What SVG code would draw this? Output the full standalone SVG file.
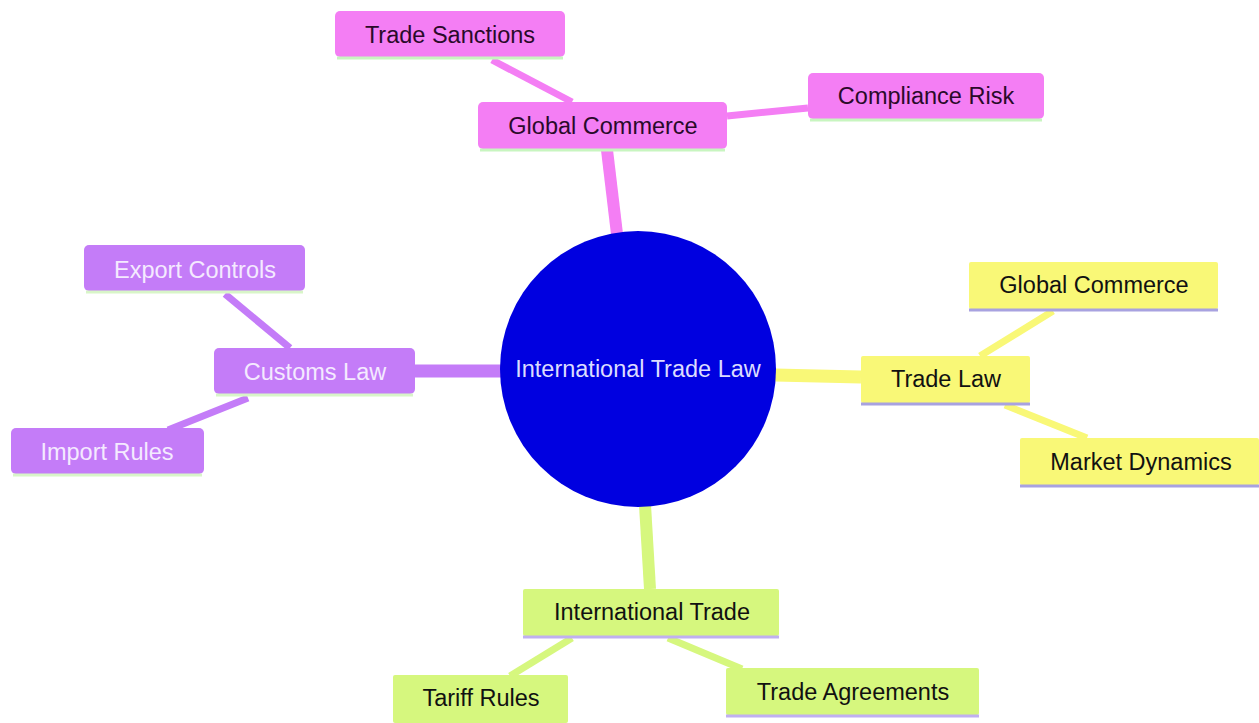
<svg xmlns="http://www.w3.org/2000/svg" width="1259" height="723" viewBox="0 0 1259 723">
<style>
text{font-family:"Liberation Sans",Arial,sans-serif;font-size:23.5px;text-anchor:middle;dominant-baseline:central}
.pk rect.b{fill:#f47ef4}.pk line{stroke:#c8f5c0}.pk text{fill:#2a0a2a}
.pu rect.b{fill:#c47cf8}.pu line{stroke:#d8f5c8}.pu text{fill:#f4eaff}
.ye rect.b{fill:#f9f877}.ye line{stroke:#a8a2e0}.ye text{fill:#111}
.gr rect.b{fill:#d6f77e}.gr line{stroke:#c0b0f0}.gr text{fill:#111}
.n line{stroke-width:3}
.c line{stroke-linecap:butt}
</style>
<g id="connectors" class="c">
<line x1="617" y1="234" x2="607" y2="150" stroke="#f47ef4" stroke-width="12"/>
<line x1="415" y1="371" x2="502" y2="371" stroke="#c47cf8" stroke-width="13"/>
<line x1="775" y1="375" x2="861" y2="377" stroke="#f9f877" stroke-width="13"/>
<line x1="645" y1="505" x2="650" y2="589" stroke="#d6f77e" stroke-width="12"/>
<line x1="492" y1="60" x2="572" y2="102" stroke="#f47ef4" stroke-width="7"/>
<line x1="727" y1="116" x2="808" y2="108" stroke="#f47ef4" stroke-width="7"/>
<line x1="225" y1="294" x2="290" y2="348" stroke="#c47cf8" stroke-width="7"/>
<line x1="248" y1="398" x2="168" y2="430" stroke="#c47cf8" stroke-width="7"/>
<line x1="980" y1="356" x2="1053" y2="311" stroke="#f9f877" stroke-width="7"/>
<line x1="1005" y1="405" x2="1087" y2="438" stroke="#f9f877" stroke-width="7"/>
<line x1="572" y1="638" x2="510" y2="676" stroke="#d6f77e" stroke-width="7"/>
<line x1="668" y1="638" x2="742" y2="669" stroke="#d6f77e" stroke-width="7"/>
</g>
<g id="root">
<circle cx="638" cy="369" r="138" fill="#0000e0"/>
<text x="638" y="369" fill="#dcdcff">International Trade Law</text>
</g>
<g id="global-commerce" class="n pk"><rect class="b" x="478" y="102" width="249" height="47" rx="5"/><line x1="480" y1="150" x2="725" y2="150"/><text x="603" y="126">Global Commerce</text></g>
<g id="trade-sanctions" class="n pk"><rect class="b" x="335" y="11" width="230" height="46" rx="5"/><line x1="337" y1="58" x2="563" y2="58"/><text x="450" y="35">Trade Sanctions</text></g>
<g id="compliance-risk" class="n pk"><rect class="b" x="808" y="73" width="236" height="46" rx="5"/><line x1="810" y1="120" x2="1042" y2="120"/><text x="926" y="96">Compliance Risk</text></g>
<g id="customs-law" class="n pu"><rect class="b" x="214" y="348" width="201" height="46" rx="5"/><line x1="216" y1="395" x2="413" y2="395"/><text x="315" y="372">Customs Law</text></g>
<g id="export-controls" class="n pu"><rect class="b" x="84" y="245" width="221" height="46" rx="5"/><line x1="86" y1="292" x2="303" y2="292"/><text x="195" y="270">Export Controls</text></g>
<g id="import-rules" class="n pu"><rect class="b" x="11" y="428" width="193" height="46" rx="5"/><line x1="13" y1="475" x2="202" y2="475"/><text x="107" y="452">Import Rules</text></g>
<g id="trade-law" class="n ye"><rect class="b" x="861" y="356" width="169" height="47" rx="2"/><line x1="861" y1="404" x2="1030" y2="404"/><text x="946" y="379">Trade Law</text></g>
<g id="global-commerce-2" class="n ye"><rect class="b" x="969" y="262" width="249" height="47" rx="2"/><line x1="969" y1="310" x2="1218" y2="310"/><text x="1094" y="285">Global Commerce</text></g>
<g id="market-dynamics" class="n ye"><rect class="b" x="1020" y="438" width="239" height="47" rx="2"/><line x1="1020" y1="486" x2="1259" y2="486"/><text x="1141" y="462">Market Dynamics</text></g>
<g id="international-trade" class="n gr"><rect class="b" x="523" y="589" width="256" height="47" rx="2"/><line x1="523" y1="637" x2="779" y2="637"/><text x="652" y="612">International Trade</text></g>
<g id="tariff-rules" class="n gr"><rect class="b" x="393" y="675" width="175" height="48" rx="2"/><text x="481" y="698">Tariff Rules</text></g>
<g id="trade-agreements" class="n gr"><rect class="b" x="726" y="668" width="253" height="47" rx="2"/><line x1="726" y1="716" x2="979" y2="716"/><text x="853" y="692">Trade Agreements</text></g>
</svg>
